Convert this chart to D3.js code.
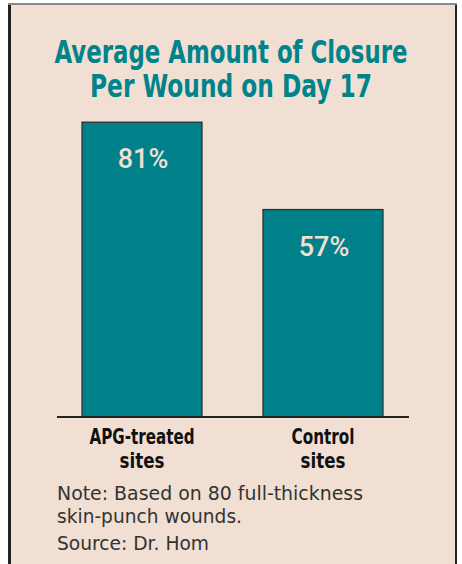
<!DOCTYPE html>
<html>
<head>
<meta charset="utf-8">
<script src="https://cdn.jsdelivr.net/npm/d3@7/dist/d3.min.js"></script>
<style>
  body { margin: 0; background: #fff; }
  text.title { fill: #00838a; font-family: "Liberation Sans Narrow", "DejaVu Sans Condensed", sans-serif; font-weight: bold; font-size: 32px; text-anchor: middle; }
  text.cat { fill: #111; font-family: "Liberation Sans Narrow", "DejaVu Sans Condensed", sans-serif; font-weight: bold; font-size: 22px; text-anchor: middle; }
  text.val { fill: #f0dfd2; font-family: Roboto, sans-serif; font-weight: 500; font-size: 27px; text-anchor: middle; }
  text.note { fill: #333; font-family: "Liberation Sans Narrow", "DejaVu Sans", sans-serif; font-size: 19px; }
</style>
</head>
<body>
<svg id="chart"></svg>
<script>
var categories = [['APG-treated', 'sites'], ['Control', 'sites']];
var values = [81, 57];
var titleLines = ['Average Amount of Closure', 'Per Wound on Day 17'];
var noteLines = ['Note: Based on 80 full-thickness', 'skin-punch wounds.', 'Source: Dr. Hom'];

var width = 462, height = 564;
var svg = d3.select('#chart')
  .attr('width', width)
  .attr('height', height);

// panel with border
svg.append('rect')
  .attr('x', 8).attr('y', 3)
  .attr('width', 449).attr('height', 570)
  .attr('fill', '#222');
svg.append('rect')
  .attr('x', 8).attr('y', 3)
  .attr('width', 449).attr('height', 2)
  .attr('fill', '#888');
svg.append('rect')
  .attr('x', 11).attr('y', 5)
  .attr('width', 444).attr('height', 570)
  .attr('fill', '#f0dfd2');

// title
var titleWidths = [353, 282];
svg.selectAll('text.title')
  .data(titleLines)
  .enter()
  .append('text')
  .attr('class', 'title')
  .attr('x', 231)
  .attr('y', (d, i) => 63 + i * 34)
  .attr('textLength', (d, i) => titleWidths[i])
  .attr('lengthAdjust', 'spacingAndGlyphs')
  .text(d => d);

var x = d3.scaleBand()
  .domain(categories.map(d => d[0]))
  .range([82, 383])
  .paddingInner(0.337)
  .paddingOuter(0);

var y = d3.scaleLinear()
  .domain([0, 100])
  .range([417, 53]);

var g = svg.append('g');

g.selectAll('rect.bar')
  .data(values)
  .enter()
  .append('rect')
  .attr('class', 'bar')
  .attr('x', (d, i) => x(categories[i][0]))
  .attr('y', d => y(d))
  .attr('width', x.bandwidth())
  .attr('height', d => y(0) - y(d))
  .attr('fill', '#00818a')
  .attr('stroke', '#2a2a2a')
  .attr('stroke-width', 1.2);

g.selectAll('text.val')
  .data(values)
  .enter()
  .append('text')
  .attr('class', 'val')
  .attr('x', (d, i) => x(categories[i][0]) + x.bandwidth() / 2 + 1)
  .attr('y', d => y(d) + 46)
  .text(d => d + '%');

// baseline
svg.append('line')
  .attr('x1', 57).attr('x2', 409)
  .attr('y1', y(0)).attr('y2', y(0))
  .attr('stroke', '#222')
  .attr('stroke-width', 2.2);

// category labels
var catWidths = [[105, 45], [63, 45]];
categories.forEach(function (lines, i) {
  svg.selectAll('text.cat' + i)
    .data(lines)
    .enter()
    .append('text')
    .attr('class', 'cat cat' + i)
    .attr('x', x(lines[0]) + x.bandwidth() / 2)
    .attr('y', (d, j) => 444 + j * 24)
    .attr('textLength', (d, j) => catWidths[i][j])
    .attr('lengthAdjust', 'spacingAndGlyphs')
    .text(d => d);
});

// note
var noteWidths = [306, 185, 152];
svg.selectAll('text.note')
  .data(noteLines)
  .enter()
  .append('text')
  .attr('class', 'note')
  .attr('x', 57)
  .attr('y', (d, i) => [500, 523, 550][i])
  .attr('textLength', (d, i) => noteWidths[i])
  .attr('lengthAdjust', 'spacingAndGlyphs')
  .text(d => d);
</script>
</body>
</html>
